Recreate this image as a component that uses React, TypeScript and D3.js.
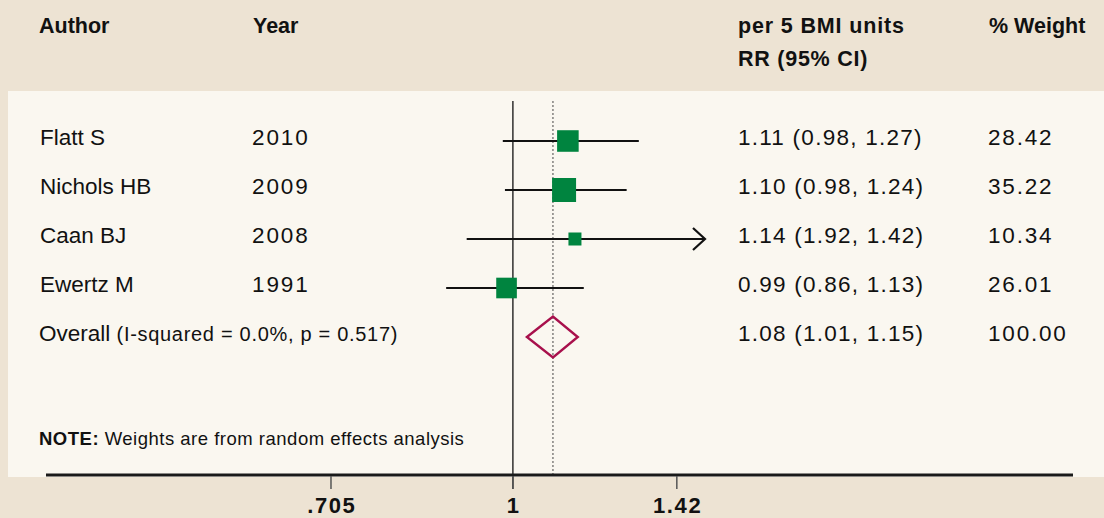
import * as d3 from "d3";

const authors = ["Flatt S", "Nichols HB", "Caan BJ", "Ewertz M"];
const years = ["2010", "2009", "2008", "1991"];
// plotted positions
const rr = [1.11, 1.102, 1.125, 0.988];
const lo = [0.981, 0.985, 0.916, 0.881];
const hi = [1.27, 1.241, 1.44, 1.144];
const weights = [28.42, 35.22, 10.34, 26.01];
const ciLabels = ["1.11 (0.98, 1.27)", "1.10 (0.98, 1.24)", "1.14 (1.92, 1.42)", "0.99 (0.86, 1.13)"];
const weightLabels = ["28.42", "35.22", "10.34", "26.01"];

const overall = { rr: 1.079, lo: 1.027, hi: 1.131, label: "1.08 (1.01, 1.15)", weight: "100.00" };

const tickValues = [0.708, 1, 1.365];
const tickLabels = [".705", "1", "1.42"];

const width = 1104;
const height = 518;
const green = "#00843f";
const crimson = "#a8104c";
const bodyFont = "'Liberation Sans', Arial, sans-serif";

const App = () => {
  const x = d3.scaleLog().domain([0.7, 1.44]).range([325, 705]);
  const rows = [...authors, "Overall"];
  const y = d3.scalePoint<string>().domain(rows).range([141, 337]);
  const size = d3.scaleSqrt().domain([0, 35.22]).range([0, 24]);
  const xMax = x.range()[1];

  const yo = y("Overall") as number;

  return (
    <svg width={width} height={height} style={{ display: "block", position: "absolute", left: 0, top: 0 }}>
      <style>{`body{margin:0}`}</style>
      <rect width={width} height={height} fill="#ede3d3" />
      <rect x={8} y={91} width={width - 8} height={386} fill="#faf7f0" />

      {/* header */}
      <g fontFamily={bodyFont} fontWeight="bold" fontSize={21.5} fill="#111">
        <text x={39} y={33}>Author</text>
        <text x={253} y={33}>Year</text>
        <text x={738} y={33} letterSpacing={0.85}>per 5 BMI units</text>
        <text x={738} y={66} letterSpacing={0.75}>RR (95% CI)</text>
        <text x={989} y={33}>% Weight</text>
      </g>

      {/* reference lines */}
      <line x1={x(1)} x2={x(1)} y1={101} y2={489} stroke="#111" strokeWidth={1.3} />
      <line x1={x(overall.rr)} x2={x(overall.rr)} y1={101} y2={476} stroke="#444" strokeWidth={1} strokeDasharray="2,2" />

      {/* studies */}
      {authors.map((a, i) => {
        const yy = y(a) as number;
        const s = size(weights[i]);
        const clipped = x(hi[i]) >= xMax;
        const x2 = Math.min(x(hi[i]), xMax);
        return (
          <g key={a}>
            <line x1={x(lo[i])} x2={x2} y1={yy} y2={yy} stroke="#111" strokeWidth={2.2} />
            {clipped && (
              <polyline
                points={`${x2 - 12},${yy - 11} ${x2},${yy} ${x2 - 12},${yy + 11}`}
                fill="none"
                stroke="#111"
                strokeWidth={2.2}
              />
            )}
            <rect x={x(rr[i]) - s / 2} y={yy - s / 2} width={s} height={s} fill={green} />
            <g fontFamily={bodyFont} fontSize={22.5} fill="#111">
              <text x={40} y={yy + 4}>{a}</text>
              <text x={252} y={yy + 4} letterSpacing={1.9}>{years[i]}</text>
              <text x={738} y={yy + 4} letterSpacing={1.25}>{ciLabels[i]}</text>
              <text x={988} y={yy + 4} letterSpacing={1.8}>{weightLabels[i]}</text>
            </g>
          </g>
        );
      })}

      {/* overall */}
      <polygon
        points={`${x(overall.lo)},${yo} ${x(overall.rr)},${yo - 20.5} ${x(overall.hi)},${yo} ${x(overall.rr)},${yo + 20.5}`}
        fill="none"
        stroke={crimson}
        strokeWidth={2.4}
      />
      <g fontFamily={bodyFont} fill="#111">
        <text x={39} y={yo + 4} fontSize={22.5}>
          Overall <tspan fontSize={20} letterSpacing={0.7}>(I-squared = 0.0%, p = 0.517)</tspan>
        </text>
        <text x={738} y={yo + 4} fontSize={22.5} letterSpacing={1.25}>{overall.label}</text>
        <text x={988} y={yo + 4} fontSize={22.5} letterSpacing={1.8}>{overall.weight}</text>
        <text x={39} y={445} fontSize={18.5} letterSpacing={0.5}>
          <tspan fontWeight="bold">NOTE:</tspan> Weights are from random effects analysis
        </text>
      </g>

      {/* axis */}
      <line x1={46} x2={1073} y1={475} y2={475} stroke="#1a1a1a" strokeWidth={3} />
      {tickValues.map((t, i) => (
        <g key={t} transform={`translate(${x(t)},0)`}>
          <line y1={476} y2={489} stroke="#555" strokeWidth={1.5} />
          <text x={0.8} y={513} textAnchor="middle" fontFamily={bodyFont} fontWeight="bold" fontSize={22} letterSpacing={1.6} fill="#111">
            {tickLabels[i]}
          </text>
        </g>
      ))}
    </svg>
  );
};

export default App;
